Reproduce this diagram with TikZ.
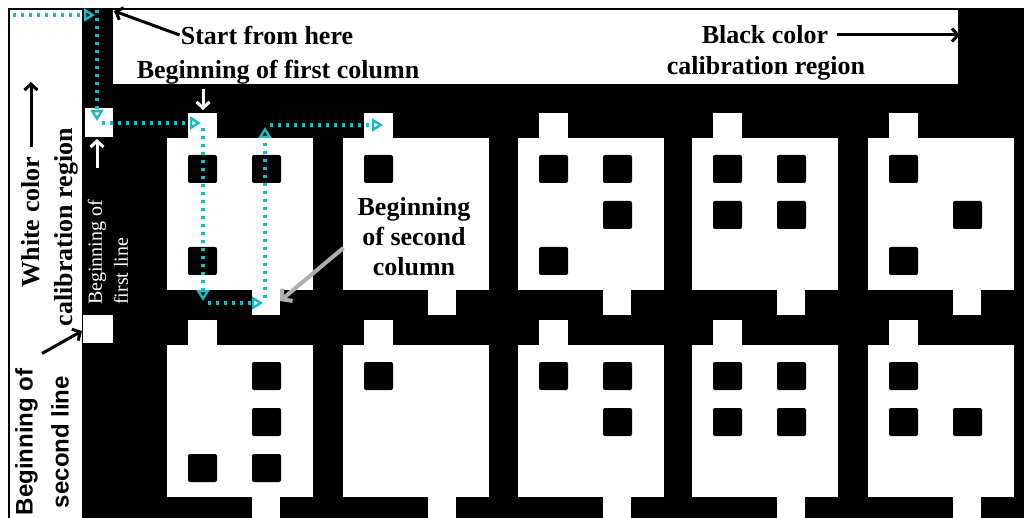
\documentclass[tikz,border=0pt]{standalone}
\usepackage{fontspec}
\setmainfont{Liberation Serif}
\newfontfamily\sansfam{Liberation Sans}
\usepackage{xcolor}
\definecolor{scancyan}{RGB}{28, 184, 196}
\definecolor{arrowgray}{RGB}{175, 175, 175}
\usepackage{tikz}
\usetikzlibrary{arrows.meta, positioning, calc}

\begin{document}
\begin{tikzpicture}[x=1pt, y=-1pt,
        cellbox/.style={fill=white},
        dotmark/.style={fill=black, rounded corners=2pt},
        scan/.style={draw=scancyan, line width=3.4pt, dash pattern=on 3pt off 5pt, shorten <=5pt, shorten >=2pt, -{Triangle[open, length=11pt, width=13pt, line width=2.4pt]}},
        blackarrow/.style={draw=black, line width=3pt, -{Straight Barb[length=6pt, width=13pt]}},
        whitearrow/.style={draw=white, line width=3pt, -{Straight Barb[length=6pt, width=13pt]}},
        grayarrow/.style={draw=arrowgray, line width=4pt, -{Straight Barb[length=7pt, width=16pt]}},
        tag/.style={font=\fontsize{26}{30}\selectfont\bfseries, inner sep=1pt, align=center},
        sidetag/.style={tag, rotate=90},
        linetag/.style={font=\fontsize{20}{26}\selectfont, text=white, inner sep=0pt, rotate=90, align=left}]

        \useasboundingbox (0,0) rectangle (1024,518);
        \fill[white] (0,0) rectangle (1024,518);
        \fill[black] (8,8) rectangle (1024,518);

        % Regiones de calibracion (blanca y negra)
        \fill[white] (10,10) rectangle (82,518);
        \fill[white] (113,10) rectangle (958,84);

        % Marcas de inicio de linea
        \fill[white] (85,108) rectangle (113,137);
        \fill[white] (83,315) rectangle (113,343);

        % Celdas: esquina superior izquierda y puntos (columna/fila)
        \foreach \mx/\my/\pins in {167/138/{1/1,2/1,1/3}, 343/138/{1/1}, 518/138/{1/1,2/1,2/2,1/3},
                692/138/{1/1,2/1,1/2,2/2}, 868/138/{1/1,2/2,1/3},
                167/345/{2/1,2/2,1/3,2/3}, 343/345/{1/1}, 518/345/{1/1,2/1,2/2},
                692/345/{1/1,2/1,1/2,2/2}, 868/345/{1/1,1/2,2/2}} {
            \fill[cellbox] (\mx,\my) rectangle ++(146,152);
            \fill[cellbox] (\mx+21,\my-25) rectangle ++(29,26);
            \fill[cellbox] (\mx+85,\my+151) rectangle ++(28,26);
            \foreach \c/\r in \pins
                \fill[dotmark] ({\mx+21+64*(\c-1)},{\my+17+46*(\r-1)}) rectangle ++(29,28);
        }

        % Recorrido de lectura
        \coordinate (k0) at (8,15);
        \coordinate (k1) at (97,15);
        \coordinate (k2) at (97,123);
        \coordinate (k3) at (203,123);
        \coordinate (k4) at (203,303);
        \coordinate (k5) at (265,303);
        \coordinate (k6) at (265,125);
        \coordinate (k7) at (385,125);
        \foreach \a/\b in {k0/k1, k2/k3, k3/k4, k4/k5, k5/k6, k6/k7}
            \draw[scan] (\a) -- (\b);
        \draw[scan, shorten <=-5pt] (k1) -- (k2);

        % Etiquetas
        \node[tag] (start) at (267,35) {Start from here};
        \node[tag] (firstcol) at (278,72) {Beginning of first column};
        \node[tag] (blacklab) at (765,35) {Black color};
        \node[tag] (blackcal) at (766,68) {calibration region};
        \node[sidetag] (whitelab) at (31,222) {White color};
        \node[sidetag] (whitecal) at (66,227) {calibration region};
        \node[tag, font=\sansfam\fontsize{24}{36}\selectfont\bfseries, rotate=90] (secline) at (42,442) {Beginning of\\second line};
        \node[linetag, anchor=west] (firstline) at (108,305) {Beginning of\\first line};
        \node[tag] (seccol) at (414,237) {Beginning\\of second\\column};

        % Flechas
        \coordinate (origin) at (114,11);
        \draw[blackarrow] (start.west) -- (origin);
        \coordinate (firsttab) at (203,110);
        \draw[whitearrow, shorten <=4pt] (firsttab |- firstcol.south) -- (firsttab);
        \coordinate (blackreg) at (960,34);
        \draw[blackarrow, shorten <=8pt] (blacklab.east) -- (blacklab.east -| blackreg);
        \coordinate (whitereg) at (32,82);
        \draw[blackarrow, shorten <=8pt] (whitelab.east) -- (whitelab.east |- whitereg);
        \coordinate (secsq) at (82,331);
        \draw[blackarrow] ($(secline.east)+(0,-14)$) -- (secsq);
        \coordinate (firstsq) at (97,139);
        \coordinate (firsttail) at (97,168);
        \draw[whitearrow] (firsttail) -- (firstsq);
        \coordinate (sectab) at (280,301);
        \draw[grayarrow, shorten <=17pt] (seccol.west) -- (sectab);
    \end{tikzpicture}
\end{document}
